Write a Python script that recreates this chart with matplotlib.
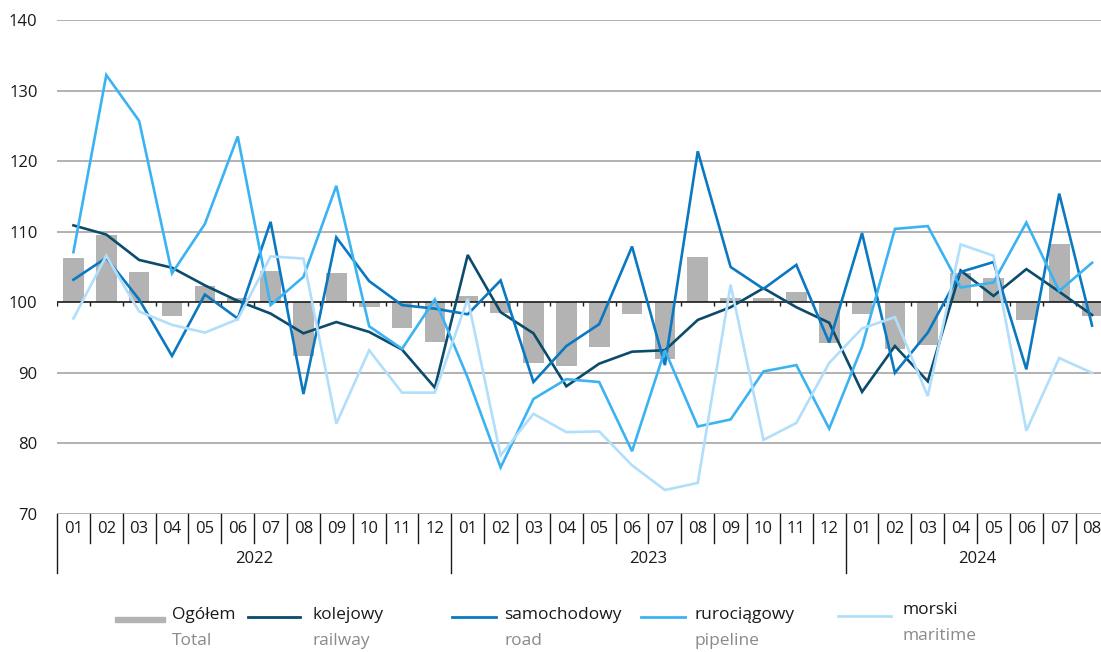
import matplotlib
matplotlib.use("Agg")
import matplotlib.pyplot as plt
from matplotlib.lines import Line2D
from matplotlib.patches import Rectangle
from matplotlib.transforms import blended_transform_factory
import numpy as np

plt.rcParams['font.family'] = ['Open Sans', 'DejaVu Sans']

# ---- data ----
years = ['2022', '2023', '2024']
months = ['01', '02', '03', '04', '05', '06', '07', '08', '09', '10', '11', '12',
          '01', '02', '03', '04', '05', '06', '07', '08', '09', '10', '11', '12',
          '01', '02', '03', '04', '05', '06', '07', '08']
year_of_month = ['2022'] * 12 + ['2023'] * 12 + ['2024'] * 8

ogolem = [106.3, 109.6, 104.3, 98.1, 102.3, 100.6, 104.5, 92.4, 104.2, 99.3, 96.4, 94.4,
          100.9, 98.5, 91.4, 91.0, 93.7, 98.4, 91.9, 106.4, 100.6, 100.6, 101.5, 94.3,
          98.3, 93.4, 93.9, 104.2, 103.4, 97.5, 108.2, 98.0]
kolejowy = [110.9, 109.6, 106.0, 104.9, 102.4, 100.2, 98.4, 95.6, 97.2, 95.8, 93.3, 87.9,
            106.7, 98.6, 95.6, 88.1, 91.3, 93.0, 93.2, 97.5, 99.3, 102.0, 99.3, 97.1,
            87.3, 93.8, 88.8, 104.5, 100.9, 104.7, 101.5, 98.2]
samochodowy = [103.2, 106.3, 100.4, 92.4, 101.1, 97.7, 111.4, 87.0, 109.2, 103.0, 99.6, 99.1,
               98.3, 103.1, 88.7, 93.8, 96.9, 107.9, 91.1, 121.4, 105.0, 101.9, 105.3, 94.3,
               109.8, 90.0, 95.7, 104.3, 105.7, 90.5, 115.4, 96.7]
rurociagowy = [107.1, 132.2, 125.7, 104.1, 111.1, 123.5, 99.6, 103.6, 116.5, 96.6, 93.4, 100.4,
               89.3, 76.6, 86.3, 89.1, 88.7, 78.9, 93.2, 82.4, 83.4, 90.2, 91.1, 82.1,
               93.7, 110.4, 110.8, 102.1, 102.8, 111.3, 101.6, 105.6]
morski = [97.7, 106.6, 98.7, 96.8, 95.7, 97.6, 106.5, 106.2, 82.8, 93.2, 87.2, 87.2,
          100.5, 78.3, 84.2, 81.6, 81.7, 76.9, 73.4, 74.4, 102.5, 80.5, 82.9, 91.4,
          96.3, 97.9, 86.7, 108.2, 106.6, 81.8, 92.1, 90.0]

yticks = [70, 80, 90, 100, 110, 120, 130, 140]
base = 100

series = [
    ('kolejowy', 'railway', kolejowy, '#0b4b6c'),
    ('samochodowy', 'road', samochodowy, '#0a79c2'),
    ('rurociągowy', 'pipeline', rurociagowy, '#3bb3f3'),
    ('morski', 'maritime', morski, '#b1dffb'),
]
bar_color = '#b3b3b3'

# ---- figure ----
W, H = 1101, 652
fig = plt.figure(figsize=(W / 100, H / 100), dpi=100)
ax_left, ax_right, ax_top, ax_bottom = 57, 1108.5, 20, 514
ax = fig.add_axes([ax_left / W, (H - ax_bottom) / H,
                   (ax_right - ax_left) / W, (ax_bottom - ax_top) / H])
ax_h_px = ax_bottom - ax_top

n = len(months)
x = np.arange(n)
ax.set_xlim(-0.5, n - 0.5)
ax.set_ylim(yticks[0], yticks[-1])
for s in ax.spines.values():
    s.set_visible(False)

# grid
for yv in yticks:
    if yv == base:
        continue
    ax.axhline(yv, color='#9d9d9d', lw=1.1, zorder=1)

# bars
vals = np.array(ogolem) - base
ax.bar(x, vals, bottom=base, width=0.63, color=bar_color, zorder=2)

# base line with small ticks
ax.axhline(base, color='#1a1a1a', lw=1.2, zorder=3)
tick_len = 4 / ax_h_px * (yticks[-1] - yticks[0])
ax.vlines(np.arange(n + 1) - 0.5, base - tick_len, base, color='#1a1a1a', lw=1.0, zorder=3)

# lines
for pl, en, vals_s, col in series:
    ax.plot(x, vals_s, color=col, lw=1.9, zorder=4, solid_joinstyle='miter')

# y tick labels
ax.set_yticks(yticks)
ax.set_yticklabels([str(v) for v in yticks], fontsize=12, color='#1a1a1a')
ax.tick_params(axis='y', length=0, pad=14)
ax.set_xticks([])

# category table below
trans = blended_transform_factory(ax.transData, ax.transAxes)
m_depth = 29 / ax_h_px
y_depth = 59 / ax_h_px
for i in range(n):
    ax.text(x[i], -15 / ax_h_px, months[i], transform=trans, ha='center', va='center',
            fontsize=12, color='#1a1a1a')
for i in range(n + 1):
    xb = i - 0.5
    new_year = (i == 0) or (i < n and year_of_month[i] != year_of_month[i - 1])
    depth = y_depth if new_year else m_depth
    ax.add_line(Line2D([xb, xb], [0, -depth], transform=trans, color='#1a1a1a',
                       lw=1.0, clip_on=False))
for yr in years:
    idx = [i for i, yy in enumerate(year_of_month) if yy == yr]
    cx = (idx[0] + idx[-1]) / 2
    ax.text(cx, -45 / ax_h_px, yr, transform=trans, ha='center', va='center',
            fontsize=12, color='#1a1a1a')

# legend (manual, figure pixel coords)
def fx(px):
    return px / W

def fy(py):
    return 1 - py / H

fig.add_artist(Rectangle((fx(115), fy(622)), fx(165) - fx(115), fy(617) - fy(622),
                         transform=fig.transFigure, color=bar_color))
fig.text(fx(172), fy(615), 'Ogółem', fontsize=12.5, color='#1a1a1a', va='center')
fig.text(fx(172), fy(641), 'Total', fontsize=12.5, color='#8a8a8a', va='center')

leg_pos = [
    (248, 300, 312, 617, 615, 641),
    (452, 496, 504, 617, 615, 641),
    (641, 685, 694, 617, 615, 641),
    (838, 891, 903, 616, 610, 636),
]
for (pl, en, vals_s, col), (lx0, lx1, tx, ly, ty1, ty2) in zip(series, leg_pos):
    fig.add_artist(Line2D([fx(lx0), fx(lx1)], [fy(ly), fy(ly)], transform=fig.transFigure,
                          color=col, lw=2.0))
    fig.text(fx(tx), fy(ty1), pl, fontsize=12.5, color='#1a1a1a', va='center')
    fig.text(fx(tx), fy(ty2), en, fontsize=12.5, color='#8a8a8a', va='center')

fig.savefig('out.png', dpi=100)
